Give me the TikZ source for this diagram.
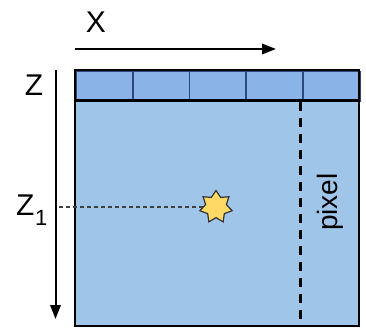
\documentclass[tikz,border=0pt]{standalone}
\usepackage{fontspec}
\setmainfont{Liberation Sans}
\usetikzlibrary{arrows.meta,shapes.geometric}
\definecolor{stripblue}{HTML}{8AB4E8}
\definecolor{mainblue}{HTML}{9FC5E8}
\definecolor{cellline}{HTML}{2B4A78}
\definecolor{stargold}{HTML}{FFD966}
\tikzset{
  x=1pt,y=-1pt,
  lbl/.style={font=\fontsize{30}{30}\selectfont,inner sep=0pt,text=black},
  axisline/.style={line width=2pt,-{Triangle[length=14pt,width=10.5pt]}},
  cellbox/.style={draw=cellline,line width=1.8pt,fill=stripblue,minimum width=56.8pt,minimum height=30pt,inner sep=0pt},
}
\begin{document}
\begin{tikzpicture}
\useasboundingbox (0,0) rectangle (366,330);
% main panel
\path[fill=mainblue] (75,70) rectangle (359,326);
% strip cells
\foreach \i in {0,...,4}{
  \node[cellbox,anchor=north west] (c\i) at ({75+\i*56.8},70.5) {};
}
% dashed pixel column
\coordinate (dtop) at (300.5,102);
\coordinate (dbot) at (300.5,326);
\draw[line width=2.3pt,dash pattern=on 9pt off 7pt] (dtop) -- (dbot);
% outline
\draw[line width=2.4pt] (75,70) rectangle (359,326);
\draw[line width=2.2pt] (75,100.5) -- (359,100.5);
% axes
\coordinate (xs) at (75,49);
\coordinate (xe) at (276,49);
\coordinate (zs) at (55.5,70);
\coordinate (ze) at (55.5,319);
\draw[axisline] (xs) -- (xe);
\draw[axisline] (zs) -- (ze);
% labels
\node[lbl] (xl) at (96,22) {X};
\node[lbl] (zl) at (34,85) {Z};
\node[lbl,anchor=base west] (z1) at (16,215) {Z};
\node[font=\fontsize{22}{22}\selectfont,inner sep=0pt,anchor=base west] (sub) at (35,225) {1};
\node[lbl,font=\fontsize{28}{28}\selectfont,rotate=90,anchor=base] (pix) at (337,202) {pixel};
% star
\node[star,star points=7,star point ratio=1.55,draw=black!80,line width=1.2pt,fill=stargold,minimum size=33pt,inner sep=0pt] (st) at (216,207) {};
\coordinate (ds) at (59,207);
\draw[line width=1.2pt,color=black!75,dash pattern=on 4pt off 3pt] (ds) -- (st);
\end{tikzpicture}
\end{document}
